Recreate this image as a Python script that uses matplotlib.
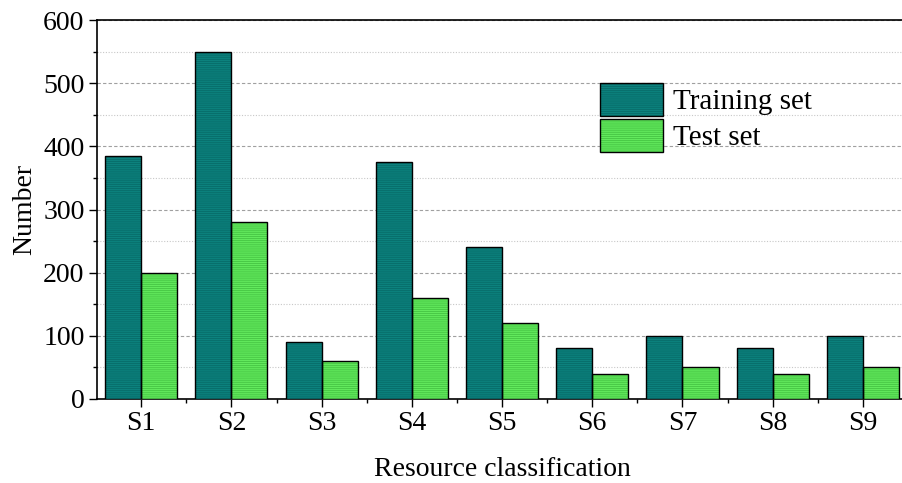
import numpy as np
import matplotlib
matplotlib.use('Agg')
from matplotlib import pyplot as plt
from matplotlib.ticker import MultipleLocator
from matplotlib.patches import Patch

plt.rcParams['font.family'] = ['Liberation Serif', 'DejaVu Serif']
plt.rcParams['hatch.linewidth'] = 0.6

categories = ['S1', 'S2', 'S3', 'S4', 'S5', 'S6', 'S7', 'S8', 'S9']
training = [385, 550, 90, 375, 240, 80, 100, 80, 100]
test = [200, 280, 60, 160, 120, 40, 50, 40, 50]

x = np.arange(1, len(categories) + 1)
w = 0.4

fig = plt.figure(figsize=(9.02, 4.83), dpi=100)
ax = fig.add_axes([97 / 902, 1 - 399 / 483, 811 / 902, 379 / 483])

# filled + hatched layer (hatch colour follows edgecolor), then black outline
ax.bar(x - w / 2, training, w, color='#0c817d', edgecolor='#076c69',
       linewidth=0, hatch='--------', zorder=3)
ax.bar(x + w / 2, test, w, color='#62e95d', edgecolor='#45c442',
       linewidth=0, hatch='--------', zorder=3)
ax.bar(x - w / 2, training, w, fill=False, edgecolor='black', linewidth=1.0, zorder=4)
ax.bar(x + w / 2, test, w, fill=False, edgecolor='black', linewidth=1.0, zorder=4)

ax.set_xlim(0.51, 9.49)
ax.set_ylim(0, 600)
ax.set_xticks(x)
ax.set_xticklabels(categories)
ax.set_xticks(x + 0.5, minor=True)
ax.yaxis.set_major_locator(MultipleLocator(100))
ax.yaxis.set_minor_locator(MultipleLocator(50))

ax.grid(axis='y', which='major', linestyle=(0, (3, 2)), color='#a0a0a0', linewidth=0.8, zorder=0)
ax.grid(axis='y', which='minor', linestyle=(0, (1, 1.5)), color='#c8c8c8', linewidth=0.8, zorder=0)

ax.tick_params(axis='both', which='major', direction='out', length=5.5, width=1, labelsize=20)
ax.tick_params(axis='both', which='minor', direction='out', length=3, width=1)
for s in ax.spines.values():
    s.set_linewidth(1.2)

ax.set_xlabel('Resource classification', fontsize=20, labelpad=15)
ax.set_ylabel('Number', fontsize=20, labelpad=4)

# legend proxies: hatched fill + black outline overlaid
outline = dict(fill=False, edgecolor='black', linewidth=1.0)
handles = [
    (Patch(facecolor='#0c817d', edgecolor='#076c69', hatch='--------', linewidth=0),
     Patch(**outline)),
    (Patch(facecolor='#62e95d', edgecolor='#45c442', hatch='--------', linewidth=0),
     Patch(**outline)),
]
ax.legend(handles, ['Training set', 'Test set'], loc='upper left',
          bbox_to_anchor=(0.62, 0.833), frameon=False,
          fontsize=21, handlelength=2.17, handleheight=1.34, handletextpad=0.35,
          labelspacing=0.12, borderpad=0, borderaxespad=0)

fig.savefig('out.png', dpi=100)
